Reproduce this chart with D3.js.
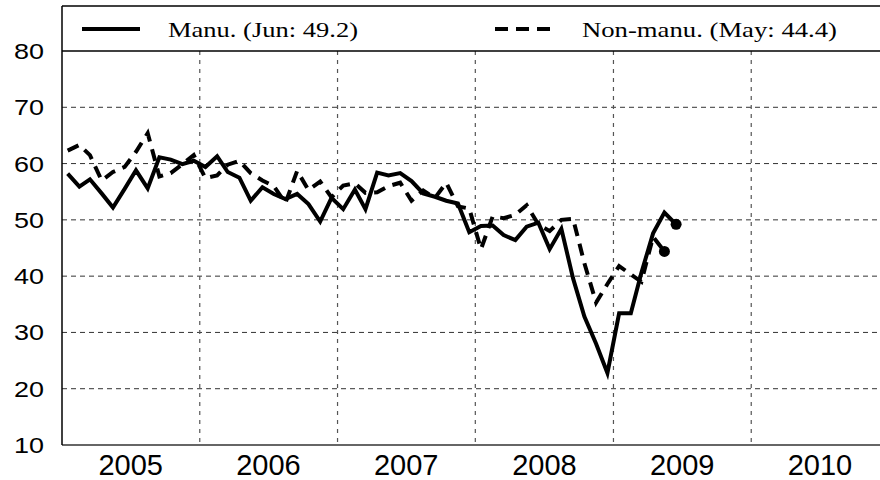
<!DOCTYPE html>
<html>
<head>
<meta charset="utf-8">
<script src="https://cdn.jsdelivr.net/npm/d3@7"></script>
<style>
  body { margin: 0; background: #fff; }
  svg { display: block; }
</style>
</head>
<body>
<div id="chart"></div>
<script>
// monthly index values, Jan 2005 onward
let manuVals = [
  58.2, 55.9, 57.2, 54.7, 52.2, 55.5, 58.8, 55.6, 61.1, 60.7, 59.9, 60.5,
  59.4, 61.3, 58.5, 57.5, 53.4, 55.8, 54.6, 53.7, 54.6, 52.8, 49.7, 53.9,
  51.9, 55.4, 51.9, 58.4, 57.9, 58.3, 56.9, 54.7, 54.1, 53.4, 52.9, 47.8,
  48.9, 49.0, 47.3, 46.4, 48.8, 49.5, 44.8, 48.4, 39.6, 32.8, 28.0, 22.8,
  33.4, 33.4, 40.6, 47.6, 51.3, 49.2
]
let nonManuVals = [
  62.3, 63.3, 61.5, 57.0, 58.5, 59.4, 62.1, 65.4, 57.7, 58.3, 59.9, 61.5,
  57.4, 57.9, 59.8, 60.5, 58.3, 57.0, 56.0, 53.0, 58.7, 55.3, 56.8, 54.0,
  56.1, 56.5, 54.8, 54.9, 56.0, 56.6, 53.4, 55.2, 53.9, 56.6, 52.4, 52.0,
  44.8, 50.6, 50.3, 50.9, 52.6, 49.2, 48.0, 50.0, 50.2, 42.3, 35.3, 38.6,
  41.8, 40.3, 39.0, 47.0, 44.4
]
let startYear = 2005
let years = [2005, 2006, 2007, 2008, 2009, 2010]
let yTicks = [10, 20, 30, 40, 50, 60, 70, 80]
let legendLabels = ['Manu. (Jun: 49.2)', 'Non-manu. (May: 44.4)']

let width = 880, height = 480
let plotLeft = 62, plotRight = 889, plotTop = 51, plotBottom = 445, boxTop = 6

let svg = d3.select('#chart').append('svg')
    .attr('width', width)
    .attr('height', height)

let x = d3.scaleTime()
    .domain([new Date(2005, 0, 1), new Date(2011, 0, 1)])
    .range([plotLeft, plotRight])
let y = d3.scaleLinear().domain([10, 80]).range([plotBottom, plotTop])

let monthDate = i => new Date(startYear, i, 16)

// grid lines
let grid = svg.append('g')
grid.selectAll('.hgrid')
    .data(yTicks.filter(d => d > 10 && d < 80))
    .enter().append('line')
    .attr('x1', plotLeft).attr('x2', plotRight)
    .attr('y1', d => y(d)).attr('y2', d => y(d))
    .attr('stroke', '#333').attr('stroke-width', 1)
    .attr('stroke-dasharray', '5,4')
grid.selectAll('.vgrid')
    .data(years.slice(1))
    .enter().append('line')
    .attr('x1', d => x(new Date(d, 0, 1))).attr('x2', d => x(new Date(d, 0, 1)))
    .attr('y1', plotTop).attr('y2', plotBottom)
    .attr('stroke', '#555').attr('stroke-width', 1.2)
    .attr('stroke-dasharray', '4,5')

// frame
svg.append('line').attr('x1', plotLeft).attr('x2', plotRight).attr('y1', plotBottom).attr('y2', plotBottom)
    .attr('stroke', '#333').attr('stroke-width', 1.5)
svg.append('line').attr('x1', plotLeft).attr('x2', plotRight).attr('y1', plotTop).attr('y2', plotTop)
    .attr('stroke', '#000').attr('stroke-width', 1.5)
svg.append('line').attr('x1', plotLeft).attr('x2', plotRight).attr('y1', boxTop).attr('y2', boxTop)
    .attr('stroke', '#000').attr('stroke-width', 1.5)
svg.append('line').attr('x1', plotLeft).attr('x2', plotLeft).attr('y1', boxTop).attr('y2', plotBottom)
    .attr('stroke', '#000').attr('stroke-width', 1.5)

// y labels
svg.selectAll('.ylab')
    .data(yTicks)
    .enter().append('text')
    .attr('x', 44)
    .attr('y', d => y(d) + 8)
    .attr('text-anchor', 'end')
    .attr('textLength', 30)
    .attr('lengthAdjust', 'spacingAndGlyphs')
    .style('font-family', 'Liberation Sans, Arial, sans-serif')
    .style('font-size', '22px')
    .text(d => d)

// x labels (centred on each year)
svg.selectAll('.xlab')
    .data(years)
    .enter().append('text')
    .attr('x', d => x(new Date(d, 6, 2)))
    .attr('y', 475)
    .attr('text-anchor', 'middle')
    .style('font-family', 'Liberation Sans, Arial, sans-serif')
    .style('font-size', '29px')
    .text(d => d)

// series lines
let line = d3.line()
    .x((d, i) => x(monthDate(i)))
    .y(d => y(d))

svg.append('path')
    .datum(nonManuVals)
    .attr('d', line)
    .attr('fill', 'none')
    .attr('stroke', '#000')
    .attr('stroke-width', 4)
    .attr('stroke-dasharray', '12,8')
    .attr('stroke-linejoin', 'miter')

svg.append('path')
    .datum(manuVals)
    .attr('d', line)
    .attr('fill', 'none')
    .attr('stroke', '#000')
    .attr('stroke-width', 4)
    .attr('stroke-linejoin', 'miter')

// latest value dots
let lastPoints = [
  {i: manuVals.length - 1, v: manuVals[manuVals.length - 1]},
  {i: nonManuVals.length - 1, v: nonManuVals[nonManuVals.length - 1]}
]
svg.selectAll('.dot')
    .data(lastPoints)
    .enter().append('circle')
    .attr('cx', d => x(monthDate(d.i)))
    .attr('cy', d => y(d.v))
    .attr('r', 5.5)
    .attr('fill', '#000')

// legend
let legend = svg.append('g')
legend.append('line')
    .attr('x1', 82).attr('x2', 140).attr('y1', 29).attr('y2', 29)
    .attr('stroke', '#000').attr('stroke-width', 4)
legend.append('line')
    .attr('x1', 495).attr('x2', 550).attr('y1', 29).attr('y2', 29)
    .attr('stroke', '#000').attr('stroke-width', 4)
    .attr('stroke-dasharray', '13,8')
legend.append('text')
    .attr('x', 168).attr('y', 37)
    .attr('textLength', 190)
    .attr('lengthAdjust', 'spacingAndGlyphs')
    .style('font-family', 'Liberation Serif, Times New Roman, serif')
    .style('font-size', '22px')
    .text(legendLabels[0])
legend.append('text')
    .attr('x', 582).attr('y', 37)
    .attr('textLength', 255)
    .attr('lengthAdjust', 'spacingAndGlyphs')
    .style('font-family', 'Liberation Serif, Times New Roman, serif')
    .style('font-size', '22px')
    .text(legendLabels[1])
</script>
</body>
</html>
